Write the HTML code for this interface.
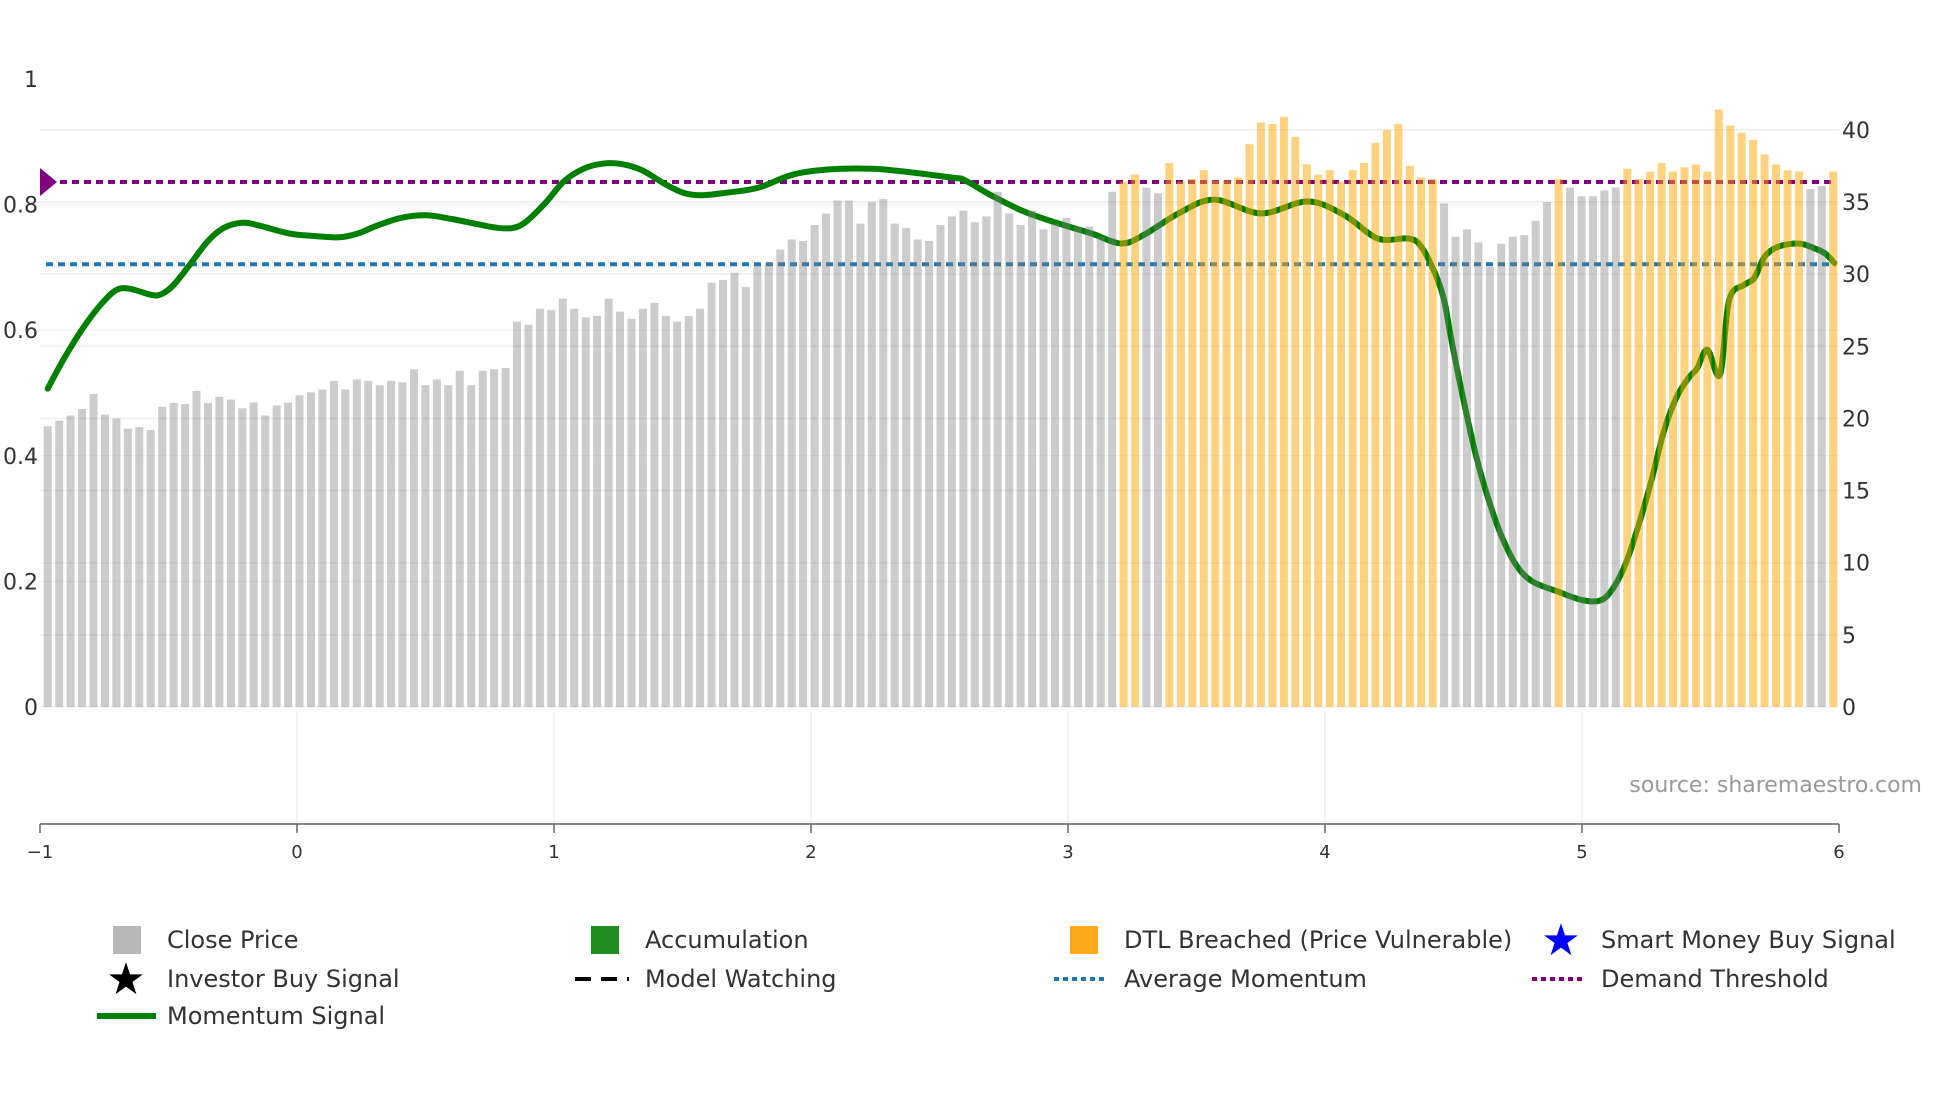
<!DOCTYPE html>
<html><head><meta charset="utf-8"><style>
html,body{margin:0;padding:0;background:#fff;}
svg{display:block;font-family:"DejaVu Sans","Liberation Sans",sans-serif;}
</style></head><body>
<svg id="chart" width="1960" height="1102" viewBox="0 0 1960 1102" xmlns="http://www.w3.org/2000/svg">
<g id="grid"></g>
<g id="refl"></g>
<g id="mom"></g>
<g id="bars"></g>
<g id="axes"></g>
<text x="1922" y="792" text-anchor="end" font-size="22" fill="#999">source: sharemaestro.com</text>
<g id="legend" font-size="24" fill="#333">
  <rect x="113" y="926" width="28" height="28" fill="#b8b8b8"/>
  <text x="167" y="948">Close Price</text>
  <rect x="591" y="926" width="28" height="28" fill="#1e8c1e"/>
  <text x="645" y="948">Accumulation</text>
  <rect x="1070" y="926" width="28" height="28" fill="#ffaa1e"/>
  <text x="1124" y="948">DTL Breached (Price Vulnerable)</text>
  <text x="1561" y="955" text-anchor="middle" font-size="44" fill="#0000ff">★</text>
  <text x="1601" y="948">Smart Money Buy Signal</text>
  <text x="126" y="994" text-anchor="middle" font-size="44" fill="#000">★</text>
  <text x="167" y="987">Investor Buy Signal</text>
  <line x1="575" y1="979" x2="629" y2="979" stroke="#000" stroke-width="4" stroke-dasharray="16,10"/>
  <text x="645" y="987">Model Watching</text>
  <line x1="1054" y1="979" x2="1108" y2="979" stroke="#1f77b4" stroke-width="4" stroke-dasharray="5,4"/>
  <text x="1124" y="987">Average Momentum</text>
  <line x1="1532" y1="979" x2="1586" y2="979" stroke="#800080" stroke-width="4" stroke-dasharray="5,4"/>
  <text x="1601" y="987">Demand Threshold</text>
  <line x1="97" y1="1016" x2="156" y2="1016" stroke="#008000" stroke-width="6"/>
  <text x="167" y="1024">Momentum Signal</text>
</g>
</svg>
<script>
const closePrice = [19.45,19.84,20.2,20.65,21.7,20.26,20.0,19.3,19.4,19.2,
20.8,21.07,21.0,21.9,21.07,21.5,21.3,20.7,21.1,20.2,
20.9,21.1,21.6,21.8,22.0,22.6,22.0,22.7,22.6,22.3,
22.6,22.5,23.4,22.3,22.7,22.3,23.3,22.3,23.3,23.4,
23.5,26.7,26.5,27.6,27.5,28.3,27.6,27.0,27.1,28.3,
27.4,26.9,27.6,28.0,27.1,26.7,27.1,27.6,
29.4,29.6,30.1,29.1,30.6,30.8,31.7,32.4,32.3,33.4,
34.2,35.1,35.1,33.5,35.0,35.2,33.5,33.2,32.4,32.3,
33.4,34.0,34.4,33.6,34.0,35.7,34.2,33.4,34.4,33.1,
33.5,33.9,33.3,33.3,32.6,35.7,
36.4,36.9,36.0,35.6,37.7,36.4,36.6,37.2,36.5,36.5,36.7,39.0,40.5,40.4,40.9,39.5,37.6,36.9,37.2,36.4,37.2,37.7,39.1,40.0,40.4,37.5,36.7,36.6,34.9,32.6,33.1,32.2,30.5,
32.1,32.6,32.7,33.7,35.0,36.6,36.0,35.4,35.4,35.8,36.0,37.3,36.6,37.1,37.7,37.1,37.4,37.6,37.1,41.4,40.3,39.8,39.3,38.3,37.6,37.2,37.1,35.9,36.1,37.1];
const dtlBars = [94,95,98,99,100,101,102,103,104,105,106,107,108,109,110,111,112,113,114,115,116,117,118,119,120,121,132,138,139,140,141,142,143,144,145,146,147,148,149,150,151,152,153,156];
const momIdx = [0,1.4,3.1,4.7,6.0,7.2,9.1,10,11,12.4,14,15.4,17,18.4,21.1,23.3,25.5,27.1,28.7,30.9,33.1,35.3,37.5,39.3,40.7,41.8,43.5,45.1,46.8,48.4,50.0,51.9,53.9,55.5,57.1,59.3,62.1,65.9,72.0,79.0,80.1,82.4,85.3,88.3,91.2,93.8,95.8,98.8,101.9,106.0,110.1,113.3,116.2,118.9,120.0,121.2,122.0,122.6,123.7,124.8,125.9,127,128.3,129.7,131.9,134.1,135.7,136.8,137.9,139.0,140.1,141.2,142.3,143.4,144.1,145.0,146.1,146.9,148.2,149.1,150.0,151.2,153.0,154.4,155.3,156.1];
const momVal = [0.507,0.554,0.604,0.642,0.664,0.666,0.656,0.658,0.672,0.704,0.742,0.763,0.771,0.767,0.754,0.75,0.748,0.754,0.766,0.779,0.783,0.777,0.769,0.763,0.763,0.773,0.803,0.837,0.857,0.865,0.865,0.855,0.833,0.819,0.815,0.819,0.827,0.851,0.857,0.843,0.839,0.815,0.789,0.770,0.754,0.738,0.752,0.786,0.808,0.786,0.805,0.783,0.746,0.746,0.733,0.691,0.648,0.588,0.488,0.399,0.329,0.273,0.226,0.200,0.184,0.170,0.170,0.190,0.230,0.290,0.360,0.439,0.493,0.525,0.539,0.569,0.529,0.648,0.672,0.683,0.717,0.733,0.738,0.730,0.722,0.707];
const demandThreshold = 0.836;
const avgMomentum = 0.705;
const leftTicks = [0,0.2,0.4,0.6,0.8,1];
const leftTickLabels = ["0","0.2","0.4","0.6","0.8","1"];
const rightTicks = [0,5,10,15,20,25,30,35,40];
const xTicks = [-1,0,1,2,3,4,5,6];

const NS="http://www.w3.org/2000/svg";
const X0=42, X1=1839, N=closePrice.length, STEP=(X1-X0)/N;
function xBar(i){return X0+(i+0.5)*STEP;}
function yR(v){return 707-v*14.43;}
function yL(v){return 707-v*628;}
function xAxis(v){return 40+(v+1)*(1839-40)/7;}
function mk(tag,attrs,parent){const e=document.createElementNS(NS,tag);for(const k in attrs)e.setAttribute(k,attrs[k]);parent.appendChild(e);return e;}

const grid=document.getElementById('grid');
rightTicks.forEach(t=>{
  const l=mk('line',{x1:40,x2:1839,y1:yR(t),y2:yR(t),stroke:'#eceef3','stroke-width':1.5},grid);
  
  
});
leftTicks.forEach(t=>{
  if(t>=1) return;
  const l=mk('line',{x1:40,x2:1839,y1:yL(t),y2:yL(t),stroke:'#f0f1f5','stroke-width':1},grid);
  
  
});
xTicks.forEach(t=>{
  if(t>-1&&t<6){
    const l=mk('line',{x1:xAxis(t),x2:xAxis(t),y1:712,y2:824,stroke:'#eceef3','stroke-width':1.5},grid);
    
    
  }
});

const refl=document.getElementById('refl');
const dl=mk('line',{x1:48,x2:1836,y1:yL(demandThreshold),y2:yL(demandThreshold),stroke:'#800080','stroke-width':4,'stroke-dasharray':'7,5'},refl);


const al=mk('line',{x1:46,x2:1836,y1:yL(avgMomentum),y2:yL(avgMomentum),stroke:'#1f77b4','stroke-width':4,'stroke-dasharray':'7,5'},refl);


const dm=mk('path',{d:`M40 ${yL(demandThreshold)-14} L57 ${yL(demandThreshold)} L40 ${yL(demandThreshold)+14} Z`,fill:'#800080'},refl);



const pts=momIdx.map((ix,k)=>[xBar(ix),yL(momVal[k])]);
let d=`M${pts[0][0]} ${pts[0][1]}`;
for(let k=0;k<pts.length-1;k++){
  const p0=pts[Math.max(0,k-1)],p1=pts[k],p2=pts[k+1],p3=pts[Math.min(pts.length-1,k+2)];
  const c1=[p1[0]+(p2[0]-p0[0])/6,p1[1]+(p2[1]-p0[1])/6];
  const c2=[p2[0]-(p3[0]-p1[0])/6,p2[1]-(p3[1]-p1[1])/6];
  d+=` C${c1[0].toFixed(1)} ${c1[1].toFixed(1)} ${c2[0].toFixed(1)} ${c2[1].toFixed(1)} ${p2[0].toFixed(1)} ${p2[1].toFixed(1)}`;
}
const ml=mk('path',{d:d,fill:'none',stroke:'#008000','stroke-width':6,'stroke-linejoin':'round','stroke-linecap':'round'},document.getElementById('mom'));



const bars=document.getElementById('bars');
closePrice.forEach((v,i)=>{
  const orange=dtlBars.includes(i);
  const r=mk('rect',{x:(xBar(i)-4).toFixed(1),y:yR(v).toFixed(1),width:8,height:(707-yR(v)).toFixed(1),fill:orange?'rgba(255,165,0,0.5)':'rgba(128,128,128,0.4)'},bars);
  
  
});

const axes=document.getElementById('axes');
leftTicks.forEach((t,k)=>{
  const tx=mk('text',{x:38,y:yL(t)+8,'text-anchor':'end','font-size':22,fill:'#333'},axes);
  tx.textContent=leftTickLabels[k];
  
  
});
rightTicks.forEach(t=>{
  const tx=mk('text',{x:1842,y:yR(t)+8,'font-size':22,fill:'#333'},axes);
  tx.textContent=String(t);
  
  
});
const xl=mk('line',{x1:40,x2:1839,y1:824,y2:824,stroke:'#888','stroke-width':2},axes);


xTicks.forEach(t=>{
  const tk=mk('line',{x1:xAxis(t),x2:xAxis(t),y1:824,y2:833,stroke:'#666','stroke-width':1.5},axes);
  
  
  const tx=mk('text',{x:xAxis(t),y:858,'text-anchor':'middle','font-size':18,fill:'#333'},axes);
  tx.textContent=t<0?'\u2212'+Math.abs(t):String(t);
  
  
});
</script>
</body></html>
